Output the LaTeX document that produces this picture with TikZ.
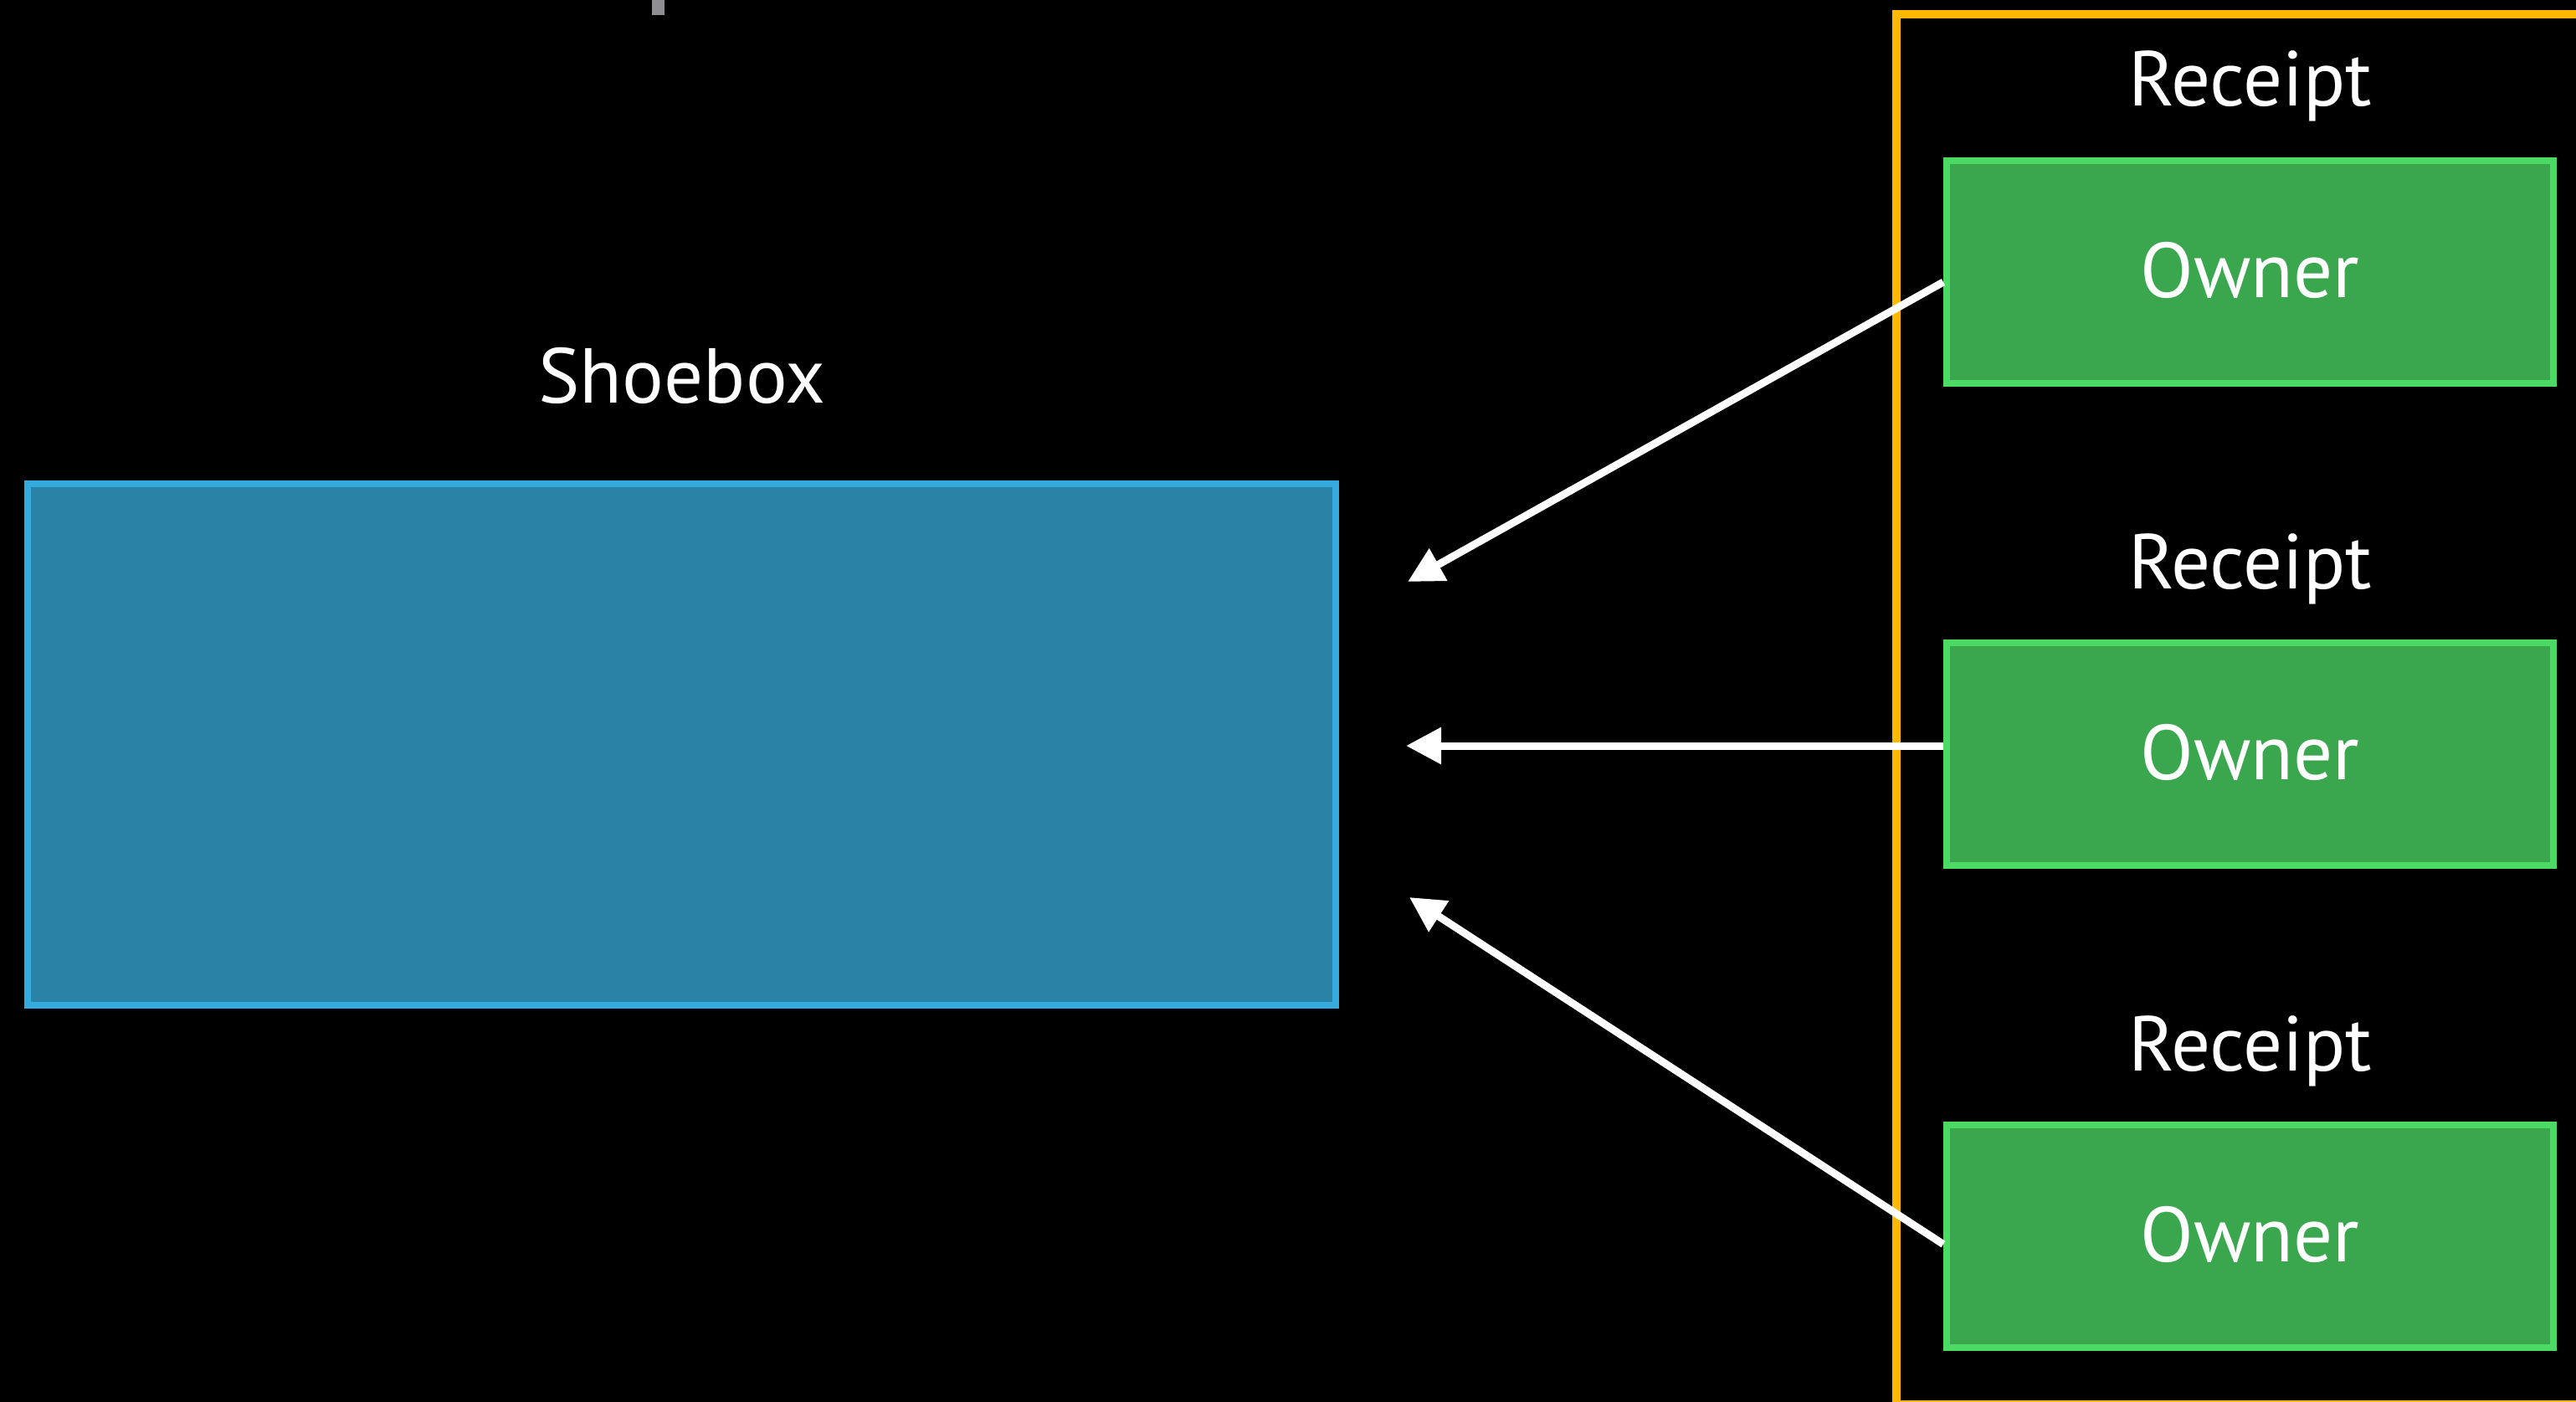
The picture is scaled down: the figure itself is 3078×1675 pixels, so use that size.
\documentclass[tikz,border=0pt]{standalone}
\usepackage{fontspec}
\setmainfont{PT Sans}
\usetikzlibrary{arrows.meta}
\definecolor{shoefill}{HTML}{2A83A6}
\definecolor{shoeline}{HTML}{35AADC}
\definecolor{ownfill}{HTML}{3AA64E}
\definecolor{ownline}{HTML}{4CD964}
\definecolor{orng}{HTML}{FFB800}
\definecolor{grymark}{HTML}{8E8E93}
\tikzset{
  ownerbox/.style={draw=ownline, fill=ownfill, line width=8pt, minimum width=725pt, minimum height=266pt, inner sep=0pt},
  lbl/.style={text=white, anchor=base, inner sep=0pt, font=\fontsize{93}{100}\selectfont},
  refarrow/.style={draw=white, line width=9pt, -{Triangle[length=42pt,width=42pt]}}
}
\begin{document}
\begin{tikzpicture}[x=1pt,y=-1pt]
\useasboundingbox (0,0) rectangle (3078,1675);
\clip (0,0) rectangle (3078,1675);
\fill[black] (0,0) rectangle (3078,1675);
% gray mark at top
\fill[grymark] (779,-2) rectangle (794,18);
% shoebox
\node[draw=shoeline, fill=shoefill, line width=8pt, minimum width=1563pt, minimum height=623pt, inner sep=0pt] (shoe) at (814.5,889.5) {};
\node[lbl] (shoelbl) at (815,481) {Shoebox};
% orange receipt container
\draw[orng, line width=10pt] (2266,17) rectangle (3100,1678);
% owner boxes
\node[ownerbox] (o1) at (2688.5,325) {};
\node[ownerbox] (o2) at (2688.5,901) {};
\node[ownerbox] (o3) at (2688.5,1476.5) {};
\node[lbl] (r1) at (2688.5,127) {Receipt};
\node[lbl] (r2) at (2688.5,703) {Receipt};
\node[lbl] (r3) at (2688.5,1279) {Receipt};
\node[lbl] (w1) at (2688.5,355) {Owner};
\node[lbl] (w2) at (2688.5,931) {Owner};
\node[lbl] (w3) at (2688.5,1507) {Owner};
% arrow tips
\coordinate (t1) at (1682,695);
\coordinate (t2) at (1680,891);
\coordinate (t3) at (1684,1072);
\draw[refarrow] ([yshift=-12pt]o1.west) -- (t1);
\draw[refarrow] ([yshift=10pt]o2.west) -- (t2);
\draw[refarrow] ([yshift=-10pt]o3.west) -- (t3);
\end{tikzpicture}
\end{document}
